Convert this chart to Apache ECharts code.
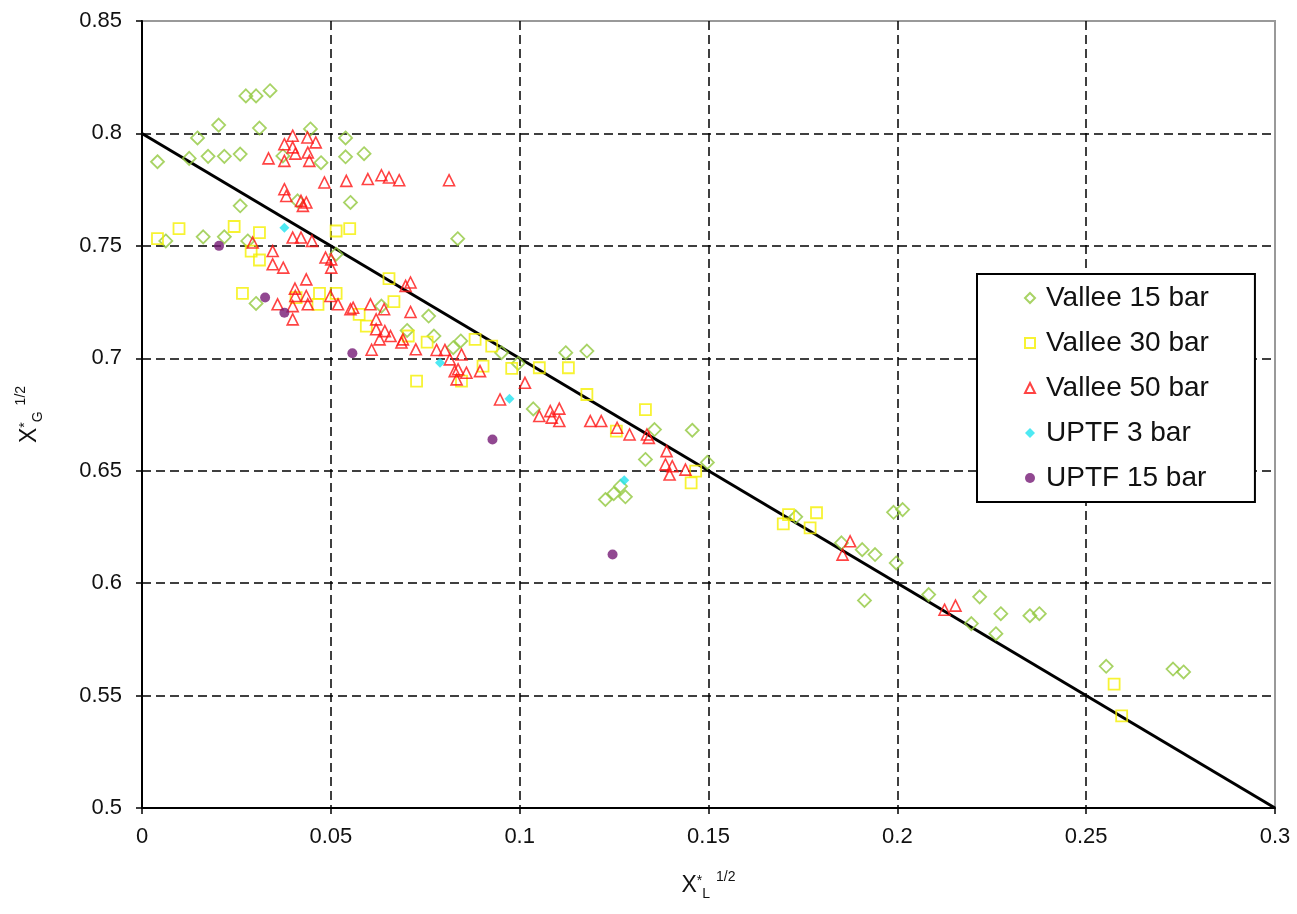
<!DOCTYPE html>
<html>
<head>
    <meta charset="utf-8">
    <title>ECharts</title>
    <script src="https://cdn.jsdelivr.net/npm/echarts@6.0.0/dist/echarts.min.js"></script>
</head>
<body style="margin:0">
    <div id="main" style="width:1297px;height:914px"></div>
    <script type="text/javascript">
        // series: [X*L^1/2, X*G^1/2]
        var vallee15 = [
            [0.0041, 0.7874], [0.0063, 0.7522], [0.0125, 0.7889], [0.0147, 0.798], [0.0162, 0.754],
            [0.0175, 0.7898], [0.0203, 0.8037], [0.0218, 0.7898], [0.0218, 0.754], [0.026, 0.7908],
            [0.026, 0.7678], [0.0275, 0.8167], [0.028, 0.7522], [0.0302, 0.8167], [0.0302, 0.7244],
            [0.0311, 0.8024], [0.0339, 0.819], [0.0373, 0.790], [0.0412, 0.770], [0.0446, 0.802],
            [0.0474, 0.787], [0.0514, 0.7463], [0.0539, 0.798], [0.0539, 0.7896], [0.0552, 0.7693],
            [0.0588, 0.791], [0.0634, 0.7232], [0.0702, 0.7124], [0.0759, 0.7188], [0.0773, 0.7099],
            [0.0824, 0.7047], [0.0836, 0.7532], [0.0844, 0.7077], [0.0952, 0.7025], [0.0996, 0.6977],
            [0.1036, 0.6775], [0.1122, 0.7025], [0.1178, 0.7032], [0.1227, 0.6372], [0.1249, 0.6398],
            [0.1267, 0.6431], [0.128, 0.6384], [0.1333, 0.655], [0.1357, 0.6683], [0.1457, 0.668],
            [0.1497, 0.6537], [0.1731, 0.6295], [0.1852, 0.6179], [0.1907, 0.6149], [0.1913, 0.5923],
            [0.1941, 0.6127], [0.199, 0.6315], [0.1997, 0.609], [0.2014, 0.6327], [0.2083, 0.5949],
            [0.2196, 0.582], [0.2218, 0.5939], [0.2261, 0.5775], [0.2274, 0.5864], [0.2351, 0.5855],
            [0.2376, 0.5864], [0.2553, 0.563], [0.273, 0.5618], [0.2758, 0.5605]
        ];
        var vallee30 = [
            [0.0041, 0.7532], [0.0098, 0.7577], [0.0244, 0.7586], [0.0266, 0.7289], [0.0289, 0.7477],
            [0.0311, 0.7559], [0.0311, 0.7437], [0.0408, 0.727], [0.0466, 0.724], [0.047, 0.7289],
            [0.0514, 0.7566], [0.0514, 0.7289], [0.055, 0.7577], [0.0575, 0.7195], [0.0594, 0.7143],
            [0.0654, 0.7354], [0.0667, 0.7252], [0.0705, 0.7099], [0.0727, 0.6898], [0.0755, 0.7072],
            [0.0846, 0.6898], [0.0882, 0.7084], [0.0903, 0.6965], [0.0926, 0.7054], [0.0979, 0.6955],
            [0.1052, 0.6958], [0.1129, 0.6958], [0.1178, 0.6839], [0.1256, 0.6676], [0.1333, 0.6772],
            [0.1454, 0.6446], [0.1466, 0.6498], [0.1698, 0.6264], [0.1712, 0.6305], [0.1769, 0.6246],
            [0.1786, 0.6313], [0.2574, 0.5551], [0.2594, 0.541]
        ];
        var vallee50 = [
            [0.0293, 0.7515], [0.0335, 0.7889], [0.0346, 0.7477], [0.0346, 0.7418], [0.0359, 0.724],
            [0.0377, 0.7752], [0.0374, 0.7403], [0.0377, 0.7952], [0.0377, 0.7878], [0.0382, 0.7722],
            [0.0399, 0.799], [0.0399, 0.7938], [0.0399, 0.7537], [0.0399, 0.7232], [0.0399, 0.7173],
            [0.0405, 0.731], [0.0406, 0.791], [0.0406, 0.7277], [0.0421, 0.77], [0.0421, 0.7537],
            [0.0426, 0.7678], [0.0439, 0.7915], [0.0435, 0.7693], [0.0435, 0.7351], [0.0435, 0.7277],
            [0.0438, 0.7982], [0.0439, 0.724], [0.0443, 0.7878], [0.045, 0.7522], [0.046, 0.796],
            [0.0483, 0.7782], [0.0486, 0.7448], [0.0499, 0.7277], [0.0501, 0.744], [0.0501, 0.7403],
            [0.0519, 0.724], [0.0541, 0.7789], [0.0552, 0.7218], [0.0559, 0.7225], [0.0598, 0.7797],
            [0.0605, 0.724], [0.0608, 0.7038], [0.062, 0.7173], [0.062, 0.7129], [0.0629, 0.7084],
            [0.0634, 0.7814], [0.0641, 0.7218], [0.0643, 0.7121], [0.0654, 0.7804], [0.0658, 0.7099],
            [0.0681, 0.7792], [0.0687, 0.707], [0.0691, 0.7084], [0.0698, 0.7322], [0.0711, 0.7337],
            [0.0711, 0.7206], [0.0725, 0.704], [0.078, 0.7037], [0.0802, 0.7037], [0.0815, 0.6995],
            [0.0813, 0.7792], [0.0828, 0.6943], [0.0833, 0.6906], [0.0837, 0.6951], [0.0846, 0.7017],
            [0.0859, 0.6936], [0.0895, 0.6943], [0.0948, 0.6817], [0.1014, 0.6891], [0.1052, 0.6743],
            [0.1081, 0.6765], [0.1085, 0.6736], [0.1105, 0.6776], [0.1105, 0.6721], [0.1187, 0.6721],
            [0.1216, 0.6721], [0.1258, 0.6691], [0.1291, 0.6661], [0.1337, 0.6661], [0.1342, 0.6646],
            [0.1386, 0.6528], [0.1389, 0.6587], [0.1397, 0.6483], [0.1404, 0.652], [0.1439, 0.6505],
            [0.1855, 0.6127], [0.1875, 0.6186], [0.2125, 0.5882], [0.2154, 0.59]
        ];
        var uptf3 = [[0.0377, 0.7581], [0.0789, 0.698], [0.0973, 0.682], [0.1277, 0.6458]];
        var uptf15 = [[0.0204, 0.75], [0.0326, 0.727], [0.0377, 0.7203], [0.0557, 0.7022], [0.0928, 0.6639], [0.1246, 0.6127]];
        // correlation line
        var fitLine = [[0, 0.8], [0.3, 0.5]];

        var legendNames = ['Vallee 15 bar', 'Vallee 30 bar', 'Vallee 50 bar', 'UPTF 3 bar', 'UPTF 15 bar'];

        var font = 'Liberation Sans, Arial, sans-serif';
        var myChart = echarts.init(document.getElementById('main'));

        var titleRich = {
            b: { fontSize: 23, fontFamily: font, color: '#111' },
            s: { fontSize: 14, fontFamily: font, color: '#111', padding: [0, 0, 10, 0] },
            sub: { fontSize: 14, fontFamily: font, color: '#111', padding: [16, 0, 0, 0] },
            sup: { fontSize: 14, fontFamily: font, color: '#111', padding: [0, 0, 18, 6] }
        };

        var option = {
            animation: false,
            backgroundColor: '#fff',
            grid: {
                left: 142, right: 22, top: 21, bottom: 106,
                show: true, borderColor: '#999', borderWidth: 2
            },
            legend: {
                data: legendNames,
                orient: 'vertical',
                left: 977, top: 274,
                backgroundColor: '#fff',
                borderColor: '#000', borderWidth: 2,
                padding: [10, 46, 10, 47],
                itemGap: 17,
                itemWidth: 10, itemHeight: 10,
                textStyle: { fontSize: 28, fontFamily: font, color: '#111', padding: [0, 0, 0, 6] }
            },
            xAxis: {
                type: 'value', min: 0, max: 0.3, interval: 0.05,
                name: '{b|X}{s|*}{sub|L}{sup|1/2}',
                nameLocation: 'middle', nameGap: 62,
                nameTextStyle: { rich: titleRich },
                axisLine: { lineStyle: { color: '#000', width: 2 } },
                axisTick: { show: true, length: 6, lineStyle: { color: '#000', width: 1.5 } },
                axisLabel: { fontSize: 22, fontFamily: font, color: '#111', margin: 18 },
                splitLine: { show: true, showMinLine: false, showMaxLine: false, lineStyle: { color: '#000', type: [9, 5], width: 1.5 } }
            },
            yAxis: {
                type: 'value', min: 0.5, max: 0.85, interval: 0.05,
                name: '{b|X}{s|*}{sub|G}{sup|1/2}',
                nameLocation: 'middle', nameGap: 96,
                nameTextStyle: { rich: titleRich },
                axisLine: { lineStyle: { color: '#000', width: 2 } },
                axisTick: { show: true, length: 6, lineStyle: { color: '#000', width: 1.5 } },
                axisLabel: { fontSize: 22, fontFamily: font, color: '#111', margin: 20 },
                splitLine: { show: true, showMinLine: false, showMaxLine: false, lineStyle: { color: '#000', type: [9, 5], width: 1.5 } }
            },
            series: [
                {
                    name: 'Correlation', type: 'line', data: fitLine, symbol: 'none',
                    lineStyle: { color: '#000', width: 3 }, z: 1
                },
                {
                    name: 'Vallee 15 bar', type: 'scatter', data: vallee15, symbol: 'diamond', symbolSize: 13,
                    symbolKeepAspect: true,
                    itemStyle: { color: 'rgba(255,255,255,0)', borderColor: '#92C83E', borderWidth: 1.8 }
                },
                {
                    name: 'Vallee 30 bar', type: 'scatter', data: vallee30, symbol: 'rect', symbolSize: 11,
                    symbolKeepAspect: true,
                    itemStyle: { color: 'rgba(255,255,255,0)', borderColor: '#F5F000', borderWidth: 1.8 }
                },
                {
                    name: 'Vallee 50 bar', type: 'scatter', data: vallee50, symbol: 'triangle', symbolSize: 11,
                    symbolKeepAspect: true,
                    itemStyle: { color: 'rgba(255,255,255,0)', borderColor: '#FF1414', borderWidth: 1.6 }
                },
                {
                    name: 'UPTF 3 bar', type: 'scatter', data: uptf3, symbol: 'diamond', symbolSize: 10,
                    symbolKeepAspect: true,
                    itemStyle: { color: '#22E3F0' }
                },
                {
                    name: 'UPTF 15 bar', type: 'scatter', data: uptf15, symbol: 'circle', symbolSize: 10,
                    itemStyle: { color: '#761A76' }
                }
            ]
        };

        myChart.setOption(option);
    </script>
</body>
</html>
